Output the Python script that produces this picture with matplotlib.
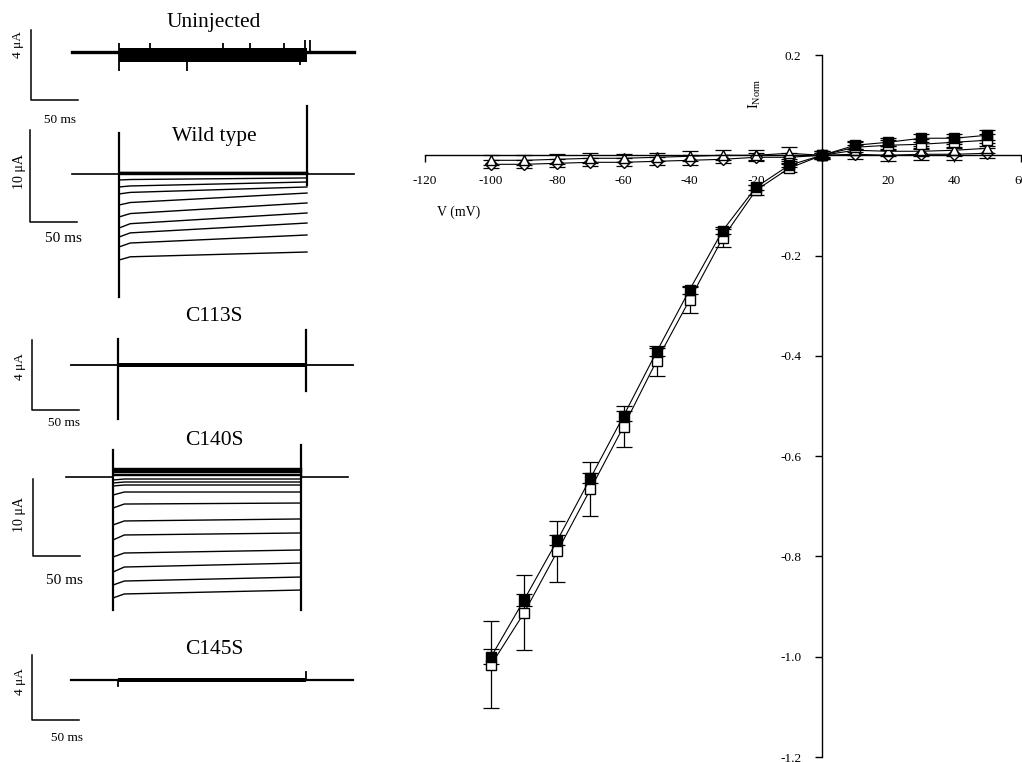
import numpy as np
import matplotlib.pyplot as plt

plt.rcParams['font.family'] = ['Liberation Serif', 'DejaVu Serif']
plt.rcParams['mathtext.fontset'] = 'custom'
plt.rcParams['mathtext.rm'] = 'Liberation Serif'
plt.rcParams['mathtext.it'] = 'Liberation Serif:italic'

W, H = 1022, 762

# ---- I-V data (normalised current vs voltage) ----
voltage = [-100, -90, -80, -70, -60, -50, -40, -30, -20, -10, 0, 10, 20, 30, 40, 50]
wt_norm = [-1.0, -0.886, -0.768, -0.644, -0.52, -0.392, -0.268, -0.15, -0.064, -0.02,
           0.0, 0.02, 0.026, 0.034, 0.034, 0.04]
wt_err = [0.015, 0.012, 0.01, 0.01, 0.01, 0.008, 0.008, 0.006, 0.005, 0.004,
          0.004, 0.008, 0.008, 0.008, 0.008, 0.01]
c140s_norm = [-1.016, -0.912, -0.79, -0.666, -0.541, -0.41, -0.288, -0.165, -0.07, -0.026,
              0.0, 0.016, 0.02, 0.022, 0.026, 0.03]
c140s_err = [0.087, 0.074, 0.061, 0.054, 0.041, 0.03, 0.026, 0.018, 0.01, 0.008,
             0.005, 0.01, 0.01, 0.01, 0.01, 0.012]
c113s_norm = [-0.01, -0.01, -0.008, -0.006, -0.006, -0.004, -0.002, 0.0, 0.0, 0.004,
              0.0, 0.01, 0.008, 0.008, 0.01, 0.014]
c113s_err = [0.01, 0.01, 0.01, 0.01, 0.008, 0.008, 0.01, 0.01, 0.01, 0.012,
             0.008, 0.01, 0.01, 0.01, 0.012, 0.01]
c145s_norm = [-0.018, -0.018, -0.016, -0.014, -0.014, -0.012, -0.01, -0.008, -0.004, -0.004,
              0.0, 0.002, 0.0, 0.002, 0.002, 0.004]
c145s_err = [0.008, 0.008, 0.008, 0.008, 0.008, 0.008, 0.01, 0.008, 0.008, 0.008,
             0.008, 0.01, 0.012, 0.012, 0.012, 0.01]

xtick_vals = [-120, -100, -80, -60, -40, -20, 20, 40, 60]
xtick_text = ['-120', '-100', '-80', '-60', '-40', '-20', '20', '40', '60']
ytick_vals = [0.2, -0.2, -0.4, -0.6, -0.8, -1.0, -1.2]
ytick_text = ['0.2', '-0.2', '-0.4', '-0.6', '-0.8', '-1.0', '-1.2']

# ---- current traces (uA): level just after step, at ~12 ms, at end of 200 ms step ----
uninj_band = (-0.6, 0.23)
uninj_spike_t = [0, 0, 33, 72, 111, 139, 175, 193, 198, 203]
uninj_spike_i = [-1.1, 0.49, 0.5, -1.1, 0.5, 0.5, 0.5, -0.76, 0.66, 0.66]

wt_start = [0.25, 0.2, 0.15, 0.1, 0.05, -0.65, -1.41, -2.17, -3.37, -4.67, -5.87, -6.85, -7.93, -9.35]
wt_knee = [0.25, 0.2, 0.15, 0.1, 0.05, -0.6, -1.3, -2.0, -3.1, -4.3, -5.4, -6.4, -7.5, -9.0]
wt_end = [0.25, 0.2, 0.15, 0.1, 0.05, -0.43, -0.87, -1.41, -2.07, -3.15, -4.24, -5.33, -6.63, -8.48]
wt_on = (4.5, -13.4)
wt_off = (7.4, -1.2)

c113s_band = (-0.12, 0.12)
c113s_on = (1.5, -3.1)
c113s_off = (2.0, -1.5)

c140s_start = [1.17, 1.05, 0.9, 0.75, 0.6, 0.45, 0.3, -0.39, -0.78, -1.17, -2.34, -4.03,
               -6.23, -8.18, -10.39, -12.34, -14.03, -15.71]
c140s_knee = [1.17, 1.05, 0.9, 0.75, 0.6, 0.45, 0.3, -0.26, -0.65, -1.04, -1.95, -3.51,
              -5.71, -7.53, -9.87, -11.69, -13.51, -15.19]
c140s_end = [1.17, 1.05, 0.9, 0.75, 0.6, 0.45, 0.3, -0.26, -0.65, -1.04, -1.95, -3.38,
             -5.45, -7.27, -9.48, -11.17, -12.99, -14.68]
c140s_on = (3.5, -17.3)
c140s_off = (4.2, -17.3)

c145s_band = (-0.1, 0.1)
c145s_on = (0.0, -0.37)
c145s_off = (0.5, 0.0)

fig = plt.figure(figsize=(W / 100, H / 100), dpi=100)


def box(x0, y0, x1, y1):
    return [x0 / W, 1 - y1 / H, (x1 - x0) / W, (y1 - y0) / H]


def ftext(x, y, s, **kw):
    fig.text(x / W, 1 - y / H, s, ha='center', va='center', **kw)


PX_MS = 0.94  # pixels per ms on the trace panels


def trace_panel(top, bot, step, base, ppu):
    ax = fig.add_axes(box(0, top, 360, bot))
    ax.set_xlim(-step / PX_MS, (360 - step) / PX_MS)
    ax.set_ylim(-(bot - base) / ppu, (base - top) / ppu)
    ax.axis('off')
    ax.step_px, ax.base_px, ax.ppu = step, base, ppu
    return ax


def baseline(ax, lw=1.6):
    ax.plot([-50, 0], [0, 0], color='black', lw=lw, clip_on=False)
    ax.plot([200, 250], [0, 0], color='black', lw=lw, clip_on=False)


def steps(ax, i0, i1, i2, lw=1.0):
    for a, b, c in zip(i0, i1, i2):
        ax.plot([0, 12, 200], [a, b, c], color='black', lw=lw, clip_on=False)


def spikes(ax, on, off, lw=1.6):
    ax.plot([0, 0], on, color='black', lw=lw, clip_on=False)
    ax.plot([200, 200], off, color='black', lw=lw, clip_on=False)


def scalebar(ax, cx, cy, amp):
    t0 = (cx - ax.step_px) / PX_MS
    i0 = (ax.base_px - cy) / ax.ppu
    ax.plot([t0, t0, t0 + 50], [i0 + amp, i0, i0], color='black', lw=1.1, clip_on=False)


# Uninjected
ax1 = trace_panel(0, 128, 119, 51.7, 17.5)
baseline(ax1, lw=2.4)
ax1.fill_between([0, 200], uninj_band[0], uninj_band[1], color='black', lw=0)
ax1.vlines(uninj_spike_t, 0, uninj_spike_i, color='black', lw=1.3)
scalebar(ax1, 31, 100, 4)
ftext(214, 22, 'Uninjected', fontsize=15.5)
ftext(17.5, 45, '4 μA', fontsize=9.5, rotation=90)
ftext(60, 120, '50 ms', fontsize=9.5)

# Wild type
ax2 = trace_panel(128, 305, 119, 174, 9.2)
baseline(ax2, lw=1.2)
steps(ax2, wt_start, wt_knee, wt_end)
spikes(ax2, wt_on, wt_off)
scalebar(ax2, 30, 222, 10)
ftext(214, 136, 'Wild type', fontsize=15.5)
ftext(20, 172, '10 μA', fontsize=10, rotation=90)
ftext(63, 239, '50 ms', fontsize=11)

# C113S
ax3 = trace_panel(305, 428, 118, 365, 17.5)
baseline(ax3, lw=1.3)
ax3.fill_between([0, 200], c113s_band[0], c113s_band[1], color='black', lw=0)
spikes(ax3, c113s_on, c113s_off)
scalebar(ax3, 32, 410, 4)
ftext(214, 316, 'C113S', fontsize=15.5)
ftext(20, 367, '4 μA', fontsize=9.5, rotation=90)
ftext(64, 423, '50 ms', fontsize=9.5)

# C140S
ax4 = trace_panel(428, 628, 113, 477, 7.7)
baseline(ax4, lw=1.2)
steps(ax4, c140s_start, c140s_knee, c140s_end)
spikes(ax4, c140s_on, c140s_off)
scalebar(ax4, 33, 556, 10)
ftext(214, 440, 'C140S', fontsize=15.5)
ftext(20, 515, '10 μA', fontsize=10, rotation=90)
ftext(64, 581, '50 ms', fontsize=11)

# C145S
ax5 = trace_panel(628, 762, 118, 680, 16.25)
baseline(ax5, lw=1.6)
ax5.fill_between([0, 200], c145s_band[0], c145s_band[1], color='black', lw=0)
spikes(ax5, c145s_on, c145s_off, lw=1.3)
scalebar(ax5, 32, 720, 4)
ftext(214, 649, 'C145S', fontsize=15.5)
ftext(20, 682, '4 μA', fontsize=9.5, rotation=90)
ftext(67, 738, '50 ms', fontsize=9.5)

# ---- I-V plot ----
ax = fig.add_axes(box(425, 55, W, 757))
ax.set_xlim(-120, 60.45)
ax.set_ylim(-1.2, 0.2)
ax.spines['left'].set_position(('data', 0))
ax.spines['bottom'].set_position(('data', 0))
ax.spines['top'].set_visible(False)
ax.spines['right'].set_visible(False)
for s in ('left', 'bottom'):
    ax.spines[s].set_linewidth(1.0)
ax.set_xticks(xtick_vals)
ax.set_xticklabels(xtick_text)
ax.set_yticks(ytick_vals)
ax.set_yticklabels(ytick_text)
ax.tick_params(direction='out', length=5, width=1.0, labelsize=9.5)
ax.tick_params(axis='x', pad=9)
ax.tick_params(axis='y', pad=10)
ax.patch.set_alpha(0)

common = dict(color='black', lw=0.8, elinewidth=0.9, capsize=6, capthick=0.9, clip_on=False)
ax.errorbar(voltage, c145s_norm, yerr=c145s_err, fmt='-D', ms=6, mfc='white', mec='black', **common)
ax.errorbar(voltage, c113s_norm, yerr=c113s_err, fmt='-^', ms=7, mfc='white', mec='black', **common)
ax.errorbar(voltage, c140s_norm, yerr=c140s_err, fmt='-s', ms=7, mfc='white', mec='black', **common)
ax.errorbar(voltage, wt_norm, yerr=wt_err, fmt='-s', ms=7, mfc='black', mec='black', **common)

ftext(459, 212, 'V (mV)', fontsize=10)
ftext(755, 94, r'I$_{\rm Norm}$', fontsize=10.5, rotation=90)

fig.savefig('out.png', dpi=100)
